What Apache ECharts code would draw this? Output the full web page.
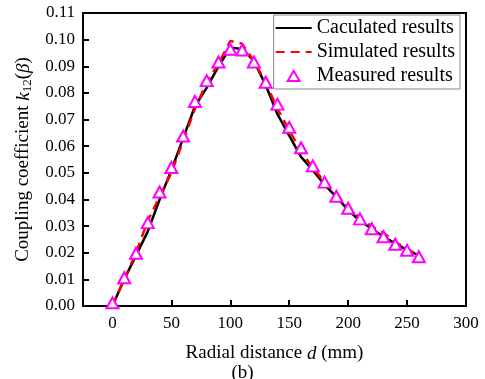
<!DOCTYPE html>
<html><head><meta charset="utf-8">
<script src="https://cdn.jsdelivr.net/npm/echarts@6/dist/echarts.min.js"></script>
<style>html,body{margin:0;padding:0;background:#fff}#c{width:485px;height:379px}</style>
</head><body><div id="c"></div>
<script>
const distance = [0,10,20,30,40,50,60,70,80,90,100,110,120,130,140,150,160,170,180,190,200,210,220,230,240,250,260];
const calculated = [0.000,0.010,0.019,0.028,0.040,0.051,0.063,0.075,0.082,0.090,0.097,0.0965,0.092,0.083,0.072,0.064,0.056,0.051,0.0455,0.041,0.036,0.032,0.029,0.026,0.0235,0.021,0.019];
const simulated = [0.000,0.010,0.020,0.032,0.041,0.050,0.062,0.074,0.084,0.091,0.0995,0.0985,0.092,0.084,0.074,0.066,0.058,0.052,0.0465,0.042,0.037,0.033,0.030,0.0275,0.024,0.0215,0.019];
const measured = [0.0012,0.0106,0.0198,0.0313,0.0428,0.052,0.0638,0.0768,0.0846,0.0916,0.0964,0.0961,0.0916,0.084,0.0758,0.0671,0.0594,0.0526,0.0465,0.0412,0.0367,0.0327,0.029,0.026,0.0232,0.0209,0.0185];
const seriesNames = ['Caculated results','Simulated results','Measured results'];
const xTicks = [0,50,100,150,200,250,300];

const pair = (ys) => distance.map((d,i)=>[d, ys[i]]);
const font = 'Liberation Serif';
const noSym = {color:'transparent',borderWidth:0,borderColor:'transparent'};
const chart = echarts.init(document.getElementById('c'), null, {renderer:'canvas'});
chart.setOption({
  animation:false,
  textStyle:{fontFamily:font},
  grid:{left:83,right:19,top:13,bottom:73,show:true,borderColor:'#000',borderWidth:2,backgroundColor:'transparent'},
  legend:{
    right:25, top:15, orient:'vertical', itemGap:4, itemWidth:36, itemHeight:10,
    backgroundColor:'#fff', borderColor:'#888', borderWidth:1, padding:[3,5,3,1],
    textStyle:{fontFamily:font, fontSize:20, color:'#000'},
    data:[
      {name:seriesNames[0], itemStyle:noSym},
      {name:seriesNames[1], itemStyle:noSym},
      {name:seriesNames[2], icon:'path://M6,0L12,10L0,10Z'}
    ]
  },
  xAxis:{
    type:'value', min:-25, max:300, interval:25,
    axisLine:{show:true,onZero:false,lineStyle:{color:'#000',width:2}},
    axisTick:{show:true,inside:true,length:6,lineStyle:{color:'#000',width:2},customValues:xTicks},
    axisLabel:{color:'#000',fontSize:17,fontFamily:font,margin:9,customValues:xTicks},
    splitLine:{show:false},
    name:'{t|Radial distance }{i|d}{t| (mm)}', nameLocation:'middle', nameGap:38,
    nameTextStyle:{rich:{t:{fontSize:19,fontFamily:font,color:'#000'},i:{fontSize:19,fontFamily:font,fontStyle:'italic',color:'#000'}}}
  },
  yAxis:{
    type:'value', min:0, max:0.11, interval:0.01,
    axisLine:{show:true,onZero:false,lineStyle:{color:'#000',width:2}},
    axisTick:{show:true,inside:true,length:6,lineStyle:{color:'#000',width:2}},
    axisLabel:{color:'#000',fontSize:17,fontFamily:font,margin:8,formatter:v=>v.toFixed(2)},
    splitLine:{show:false},
    name:'{t|Coupling coefficient }{i|k}{s|12}{t|(}{i|β}{t|)}', nameLocation:'middle', nameGap:49, nameRotate:90,
    nameTextStyle:{rich:{t:{fontSize:19,fontFamily:font,color:'#000'},i:{fontSize:19,fontFamily:font,fontStyle:'italic',color:'#000'},s:{fontSize:13,fontFamily:font,color:'#000',verticalAlign:'bottom',padding:[8,0,0,0]}}}
  },
  graphic:[{type:'text',left:'center',top:364,style:{text:'(b)',fontFamily:font,fontSize:19,fill:'#000'},z:100}],
  series:[
    {name:seriesNames[0],type:'line',data:pair(calculated),showSymbol:false,symbol:'none',
      lineStyle:{color:'#000',width:2.5},itemStyle:{color:'#000'},z:2},
    {name:seriesNames[1],type:'line',data:pair(simulated),showSymbol:false,symbol:'none',
      lineStyle:{color:'#ff0000',width:2.5,type:[9,6]},itemStyle:{color:'#ff0000'},z:3},
    {name:seriesNames[2],type:'scatter',data:pair(measured),symbol:'triangle',symbolSize:[12,11],
      itemStyle:{color:'#fff',borderColor:'#ff00ff',borderWidth:2,opacity:1},z:4}
  ]
});
</script></body></html>
